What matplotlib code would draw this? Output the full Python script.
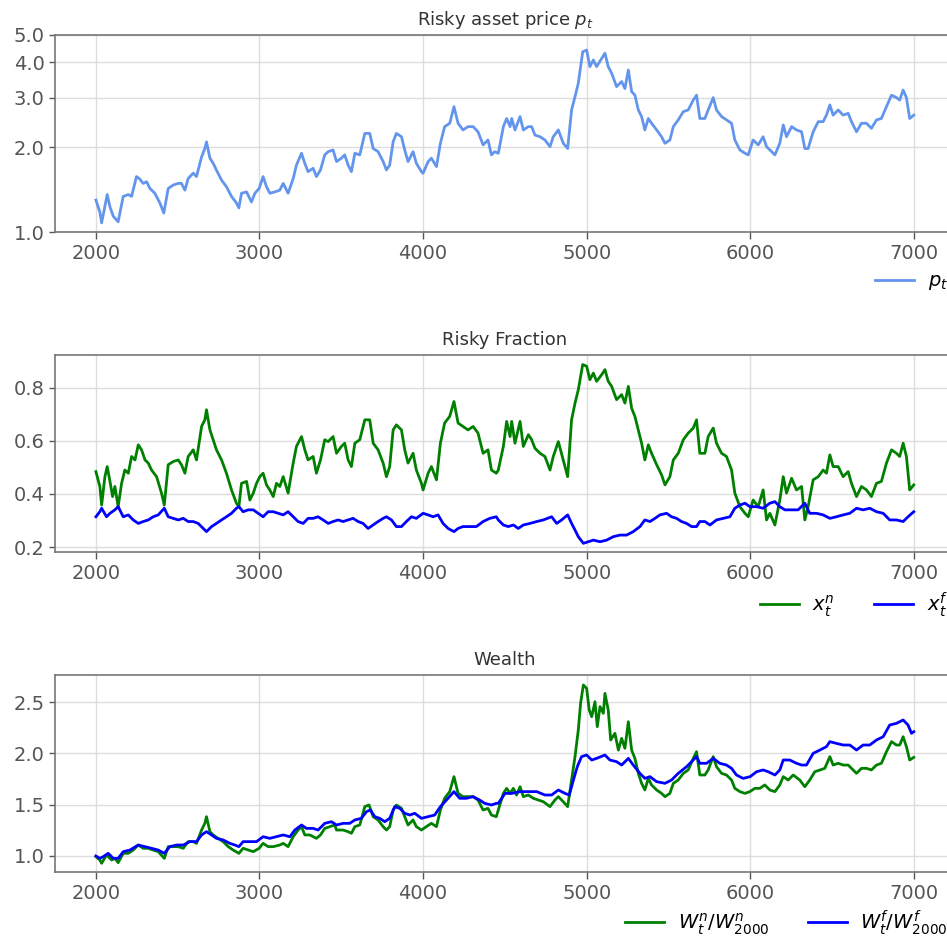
import matplotlib
matplotlib.use("Agg")
import matplotlib.pyplot as plt
import numpy as np

# ---- risky asset price ----
t_price = [2000, 2024, 2035, 2069, 2086, 2106, 2136, 2167, 2198, 2218, 2248, 2265, 2289, 2310, 2330, 2360,
           2391, 2415, 2442, 2473, 2503, 2523, 2544, 2564, 2595, 2615, 2646, 2666, 2676, 2697, 2717, 2737,
           2768, 2798, 2829, 2859, 2874, 2890, 2921, 2951, 2972, 2998, 3022, 3043, 3063, 3094, 3124, 3145,
           3175, 3206, 3226, 3257, 3277, 3297, 3328, 3348, 3373, 3399, 3420, 3450, 3471, 3501, 3521, 3542,
           3562, 3583, 3613, 3644, 3674, 3695, 3725, 3756, 3776, 3796, 3817, 3837, 3868, 3888, 3908, 3939,
           3959, 3990, 4000, 4031, 4051, 4082, 4106, 4132, 4163, 4189, 4214, 4244, 4275, 4306, 4336, 4367,
           4397, 4418, 4438, 4460, 4491, 4511, 4532, 4542, 4562, 4593, 4613, 4644, 4664, 4684, 4715, 4745,
           4776, 4796, 4827, 4857, 4884, 4908, 4929, 4949, 4976, 5000, 5020, 5041, 5061, 5092, 5112, 5132,
           5153, 5183, 5214, 5234, 5255, 5275, 5295, 5316, 5336, 5356, 5377, 5397, 5428, 5458, 5479, 5509,
           5530, 5560, 5591, 5621, 5652, 5672, 5692, 5723, 5743, 5774, 5794, 5825, 5855, 5886, 5906, 5937,
           5968, 5988, 6018, 6049, 6079, 6100, 6120, 6151, 6181, 6202, 6222, 6253, 6283, 6314, 6334, 6354,
           6385, 6416, 6446, 6466, 6487, 6507, 6538, 6568, 6599, 6619, 6650, 6680, 6711, 6741, 6772, 6802,
           6833, 6864, 6894, 6914, 6935, 6955, 6975, 7000]
price = [1.30, 1.18, 1.08, 1.36, 1.23, 1.14, 1.09, 1.34, 1.36, 1.34, 1.575, 1.55, 1.49, 1.51, 1.43, 1.375,
         1.27, 1.17, 1.43, 1.47, 1.49, 1.49, 1.41, 1.55, 1.62, 1.575, 1.85, 1.98, 2.09, 1.83, 1.755, 1.66,
         1.53, 1.45, 1.34, 1.27, 1.22, 1.375, 1.39, 1.28, 1.375, 1.43, 1.575, 1.45, 1.375, 1.39, 1.41, 1.49,
         1.375, 1.55, 1.73, 1.905, 1.755, 1.64, 1.685, 1.575, 1.663, 1.88, 1.93, 1.957, 1.78, 1.83, 1.88, 1.73,
         1.64, 1.905, 1.88, 2.24, 2.24, 1.98, 1.93, 1.78, 1.663, 1.73, 2.09, 2.24, 2.18, 1.957, 1.78, 1.93,
         1.755, 1.64, 1.618, 1.78, 1.83, 1.708, 2.067, 2.367, 2.433, 2.787, 2.433, 2.304, 2.367, 2.367, 2.27, 2.04,
         2.123, 1.88, 1.93, 1.905, 2.367, 2.53, 2.367, 2.53, 2.304, 2.569, 2.304, 2.367, 2.367, 2.21, 2.18, 2.123,
         2.01, 2.18, 2.304, 2.067, 1.98, 2.712, 3.023, 3.371, 4.36, 4.42, 3.862, 4.077, 3.862, 4.13, 4.31, 3.862,
         3.658, 3.28, 3.42, 3.23, 3.758, 3.15, 3.06, 2.712, 2.569, 2.304, 2.53, 2.433, 2.304, 2.18, 2.067, 2.123,
         2.367, 2.50, 2.675, 2.712, 2.94, 3.06, 2.53, 2.53, 2.712, 3.0, 2.712, 2.569, 2.50, 2.433, 2.123, 1.957,
         1.905, 1.88, 2.123, 2.04, 2.18, 2.01, 1.957, 1.88, 2.067, 2.40, 2.18, 2.367, 2.304, 2.27, 1.98, 1.98,
         2.27, 2.466, 2.466, 2.60, 2.825, 2.60, 2.712, 2.60, 2.639, 2.466, 2.27, 2.433, 2.433, 2.335, 2.50, 2.53,
         2.787, 3.06, 3.0, 2.94, 3.19, 3.0, 2.53, 2.60]

# ---- risky fraction, noise traders ----
t_xn = [2000, 2024, 2035, 2055, 2069, 2086, 2102, 2116, 2136, 2157, 2177, 2198, 2218, 2239, 2259, 2279,
        2300, 2320, 2340, 2371, 2401, 2418, 2442, 2473, 2503, 2523, 2544, 2564, 2595, 2615, 2646, 2666,
        2676, 2697, 2717, 2737, 2768, 2798, 2829, 2859, 2874, 2890, 2921, 2941, 2962, 2982, 3002, 3022,
        3043, 3063, 3084, 3104, 3124, 3145, 3175, 3206, 3226, 3257, 3277, 3297, 3328, 3348, 3373, 3399,
        3420, 3450, 3471, 3501, 3521, 3542, 3562, 3583, 3613, 3644, 3674, 3695, 3725, 3756, 3776, 3796,
        3817, 3837, 3868, 3888, 3908, 3939, 3959, 3990, 4000, 4031, 4051, 4082, 4106, 4132, 4163, 4189,
        4214, 4244, 4275, 4306, 4336, 4367, 4397, 4418, 4448, 4460, 4491, 4511, 4532, 4542, 4562, 4593,
        4613, 4644, 4664, 4684, 4715, 4745, 4776, 4796, 4827, 4857, 4884, 4908, 4929, 4949, 4976, 5000,
        5020, 5041, 5061, 5092, 5112, 5132, 5153, 5183, 5214, 5234, 5255, 5275, 5295, 5316, 5336, 5356,
        5377, 5397, 5428, 5458, 5479, 5509, 5530, 5560, 5591, 5621, 5652, 5672, 5692, 5723, 5743, 5774,
        5794, 5825, 5855, 5886, 5906, 5937, 5968, 5988, 6018, 6049, 6079, 6100, 6120, 6151, 6181, 6202,
        6222, 6253, 6283, 6314, 6334, 6354, 6385, 6416, 6446, 6466, 6487, 6507, 6538, 6568, 6599, 6619,
        6650, 6680, 6711, 6741, 6772, 6802, 6833, 6864, 6894, 6914, 6935, 6955, 6975, 7000]
x_n = [0.484, 0.428, 0.358, 0.465, 0.503, 0.447, 0.39, 0.428, 0.352, 0.44, 0.49, 0.478, 0.541, 0.528, 0.585, 0.566,
       0.528, 0.516, 0.49, 0.465, 0.403, 0.358, 0.51, 0.522, 0.528, 0.51, 0.478, 0.541, 0.566, 0.528, 0.654, 0.679,
       0.717, 0.641, 0.604, 0.566, 0.528, 0.478, 0.415, 0.365, 0.352, 0.44, 0.447, 0.377, 0.403, 0.44, 0.465, 0.478,
       0.434, 0.415, 0.39, 0.44, 0.428, 0.465, 0.403, 0.516, 0.579, 0.616, 0.566, 0.528, 0.541, 0.478, 0.528, 0.604,
       0.597, 0.616, 0.553, 0.579, 0.591, 0.528, 0.503, 0.591, 0.604, 0.679, 0.679, 0.591, 0.566, 0.516, 0.465, 0.503,
       0.641, 0.66, 0.641, 0.566, 0.516, 0.553, 0.49, 0.44, 0.415, 0.478, 0.503, 0.453, 0.591, 0.667, 0.692, 0.748,
       0.667, 0.654, 0.641, 0.654, 0.629, 0.553, 0.566, 0.49, 0.478, 0.49, 0.579, 0.673, 0.616, 0.673, 0.591, 0.673,
       0.579, 0.623, 0.604, 0.572, 0.553, 0.541, 0.49, 0.541, 0.597, 0.528, 0.465, 0.679, 0.742, 0.792, 0.887, 0.881,
       0.83, 0.855, 0.824, 0.849, 0.868, 0.824, 0.805, 0.755, 0.774, 0.742, 0.805, 0.723, 0.692, 0.641, 0.591, 0.528,
       0.585, 0.553, 0.51, 0.472, 0.434, 0.465, 0.528, 0.553, 0.604, 0.629, 0.648, 0.679, 0.553, 0.553, 0.616, 0.648,
       0.591, 0.553, 0.541, 0.49, 0.403, 0.352, 0.327, 0.314, 0.377, 0.352, 0.415, 0.302, 0.327, 0.283, 0.377, 0.465,
       0.403, 0.459, 0.415, 0.428, 0.302, 0.352, 0.453, 0.465, 0.49, 0.478, 0.547, 0.503, 0.503, 0.465, 0.484, 0.44,
       0.39, 0.428, 0.415, 0.39, 0.44, 0.447, 0.516, 0.566, 0.553, 0.541, 0.591, 0.541, 0.415, 0.434]

# ---- risky fraction, fundamentalists ----
t_xf = [2000, 2024, 2035, 2065, 2086, 2116, 2136, 2167, 2198, 2228, 2259, 2289, 2320, 2350, 2381, 2418,
        2442, 2473, 2503, 2534, 2564, 2595, 2625, 2656, 2676, 2707, 2737, 2768, 2798, 2829, 2859, 2874,
        2900, 2931, 2962, 2992, 3022, 3053, 3084, 3114, 3145, 3175, 3206, 3236, 3267, 3297, 3328, 3358,
        3389, 3420, 3450, 3481, 3511, 3542, 3572, 3603, 3633, 3664, 3695, 3725, 3756, 3776, 3807, 3837,
        3868, 3898, 3929, 3959, 4000, 4031, 4061, 4092, 4122, 4153, 4189, 4214, 4244, 4285, 4326, 4367,
        4408, 4448, 4460, 4491, 4521, 4552, 4582, 4613, 4654, 4695, 4735, 4786, 4817, 4847, 4884, 4908,
        4929, 4949, 4980, 5010, 5041, 5082, 5122, 5163, 5204, 5244, 5285, 5326, 5356, 5387, 5418, 5448,
        5489, 5519, 5550, 5580, 5611, 5642, 5672, 5692, 5723, 5754, 5794, 5835, 5876, 5906, 5937, 5968,
        5998, 6039, 6079, 6120, 6151, 6181, 6212, 6253, 6293, 6334, 6364, 6405, 6446, 6487, 6527, 6568,
        6609, 6650, 6690, 6731, 6772, 6813, 6853, 6894, 6935, 6965, 7000]
x_f = [0.314, 0.333, 0.346, 0.314, 0.327, 0.34, 0.352, 0.314, 0.321, 0.302, 0.289, 0.296, 0.302, 0.314, 0.321, 0.346,
       0.314, 0.308, 0.302, 0.308, 0.296, 0.296, 0.289, 0.27, 0.258, 0.277, 0.289, 0.302, 0.314, 0.327, 0.346, 0.352,
       0.333, 0.34, 0.34, 0.327, 0.314, 0.333, 0.333, 0.327, 0.321, 0.333, 0.314, 0.296, 0.289, 0.308, 0.308, 0.314,
       0.302, 0.289, 0.296, 0.302, 0.296, 0.302, 0.308, 0.296, 0.289, 0.27, 0.283, 0.296, 0.308, 0.314, 0.302, 0.277,
       0.277, 0.296, 0.314, 0.308, 0.327, 0.321, 0.314, 0.321, 0.289, 0.27, 0.258, 0.27, 0.277, 0.277, 0.277, 0.296,
       0.308, 0.314, 0.302, 0.283, 0.277, 0.283, 0.27, 0.283, 0.289, 0.296, 0.302, 0.314, 0.289, 0.302, 0.321, 0.289,
       0.264, 0.239, 0.214, 0.22, 0.226, 0.22, 0.226, 0.239, 0.245, 0.245, 0.258, 0.277, 0.302, 0.296, 0.308, 0.321,
       0.327, 0.314, 0.308, 0.296, 0.289, 0.277, 0.277, 0.296, 0.296, 0.283, 0.302, 0.308, 0.314, 0.346, 0.358, 0.365,
       0.352, 0.352, 0.346, 0.365, 0.371, 0.352, 0.34, 0.34, 0.34, 0.365, 0.327, 0.327, 0.321, 0.308, 0.314, 0.321,
       0.327, 0.346, 0.34, 0.346, 0.333, 0.327, 0.302, 0.302, 0.296, 0.314, 0.333]

# ---- normalised wealth, noise traders ----
t_wn = [2000, 2024, 2035, 2065, 2096, 2116, 2136, 2167, 2198, 2228, 2259, 2289, 2320, 2350, 2381, 2418,
        2442, 2473, 2503, 2534, 2564, 2595, 2615, 2646, 2666, 2676, 2697, 2717, 2747, 2778, 2809, 2839,
        2874, 2900, 2931, 2962, 2998, 3022, 3053, 3084, 3124, 3145, 3175, 3206, 3236, 3257, 3277, 3308,
        3348, 3373, 3399, 3430, 3460, 3471, 3511, 3542, 3562, 3583, 3613, 3644, 3670, 3695, 3725, 3756,
        3776, 3796, 3817, 3837, 3868, 3888, 3908, 3939, 3959, 3990, 4020, 4051, 4082, 4106, 4132, 4163,
        4189, 4214, 4244, 4275, 4306, 4336, 4367, 4397, 4418, 4448, 4460, 4491, 4511, 4532, 4552, 4572,
        4593, 4613, 4644, 4674, 4705, 4735, 4776, 4806, 4827, 4857, 4884, 4908, 4929, 4949, 4963, 4980,
        5000, 5016, 5031, 5051, 5065, 5082, 5102, 5112, 5132, 5147, 5173, 5194, 5214, 5234, 5255, 5275,
        5295, 5316, 5336, 5356, 5377, 5397, 5428, 5458, 5479, 5509, 5530, 5560, 5591, 5621, 5652, 5672,
        5692, 5723, 5743, 5774, 5794, 5825, 5855, 5886, 5906, 5937, 5968, 5998, 6028, 6059, 6089, 6120,
        6151, 6181, 6202, 6232, 6263, 6303, 6334, 6364, 6395, 6426, 6456, 6487, 6507, 6538, 6568, 6599,
        6629, 6650, 6680, 6711, 6741, 6772, 6802, 6833, 6864, 6894, 6914, 6935, 6955, 6975, 7000]
w_n = [0.994, 0.961, 0.929, 1.01, 0.961, 0.977, 0.935, 1.026, 1.026, 1.058, 1.107, 1.075, 1.075, 1.058, 1.042, 0.977,
       1.091, 1.091, 1.091, 1.075, 1.14, 1.14, 1.123, 1.253, 1.318, 1.383, 1.237, 1.205, 1.172, 1.14, 1.091, 1.058,
       1.026, 1.075, 1.058, 1.042, 1.075, 1.123, 1.091, 1.091, 1.107, 1.123, 1.091, 1.188, 1.253, 1.286, 1.205, 1.205,
       1.172, 1.205, 1.269, 1.286, 1.302, 1.253, 1.253, 1.237, 1.221, 1.286, 1.302, 1.481, 1.497, 1.383, 1.351, 1.286,
       1.253, 1.286, 1.448, 1.497, 1.464, 1.383, 1.302, 1.351, 1.286, 1.253, 1.286, 1.318, 1.286, 1.448, 1.562, 1.627,
       1.773, 1.61, 1.578, 1.578, 1.578, 1.545, 1.448, 1.464, 1.399, 1.383, 1.448, 1.61, 1.659, 1.61, 1.659, 1.594,
       1.675, 1.578, 1.594, 1.562, 1.545, 1.529, 1.481, 1.545, 1.578, 1.529, 1.481, 1.74, 1.968, 2.227, 2.487, 2.666,
       2.633, 2.422, 2.357, 2.503, 2.26, 2.455, 2.39, 2.584, 2.422, 2.13, 2.195, 2.032, 2.146, 2.049, 2.308, 2.032,
       1.951, 1.805, 1.708, 1.643, 1.756, 1.692, 1.643, 1.61, 1.578, 1.61, 1.708, 1.74, 1.805, 1.838, 1.951, 2.016,
       1.789, 1.789, 1.838, 1.968, 1.87, 1.805, 1.789, 1.74, 1.659, 1.627, 1.61, 1.627, 1.659, 1.659, 1.692, 1.643,
       1.627, 1.692, 1.773, 1.74, 1.789, 1.74, 1.675, 1.74, 1.821, 1.838, 1.854, 1.968, 1.886, 1.903, 1.886, 1.886,
       1.838, 1.805, 1.854, 1.854, 1.838, 1.886, 1.903, 2.016, 2.114, 2.081, 2.081, 2.162, 2.065, 1.935, 1.961]

# ---- normalised wealth, fundamentalists ----
t_wf = [2000, 2024, 2045, 2075, 2106, 2136, 2167, 2208, 2259, 2300, 2340, 2381, 2418, 2452, 2493, 2534,
        2574, 2615, 2646, 2676, 2707, 2737, 2778, 2819, 2849, 2874, 2900, 2941, 2982, 3022, 3063, 3104,
        3145, 3186, 3216, 3257, 3287, 3328, 3358, 3399, 3440, 3471, 3511, 3552, 3583, 3623, 3654, 3678,
        3705, 3735, 3766, 3796, 3827, 3858, 3888, 3919, 3949, 3990, 4031, 4071, 4106, 4143, 4189, 4224,
        4265, 4306, 4346, 4377, 4418, 4448, 4460, 4501, 4542, 4593, 4644, 4695, 4745, 4786, 4827, 4868,
        4894, 4919, 4943, 4969, 5000, 5031, 5061, 5112, 5142, 5183, 5214, 5255, 5285, 5326, 5356, 5387,
        5428, 5479, 5519, 5560, 5611, 5652, 5672, 5692, 5733, 5774, 5814, 5855, 5886, 5916, 5957, 6000,
        6039, 6079, 6110, 6151, 6181, 6202, 6242, 6283, 6314, 6344, 6385, 6426, 6466, 6487, 6527, 6568,
        6609, 6650, 6690, 6731, 6772, 6813, 6853, 6894, 6935, 6965, 6986, 7000]
w_f = [1.0, 0.977, 0.994, 1.026, 0.977, 0.977, 1.042, 1.058, 1.107, 1.091, 1.075, 1.058, 1.026, 1.091, 1.107, 1.107,
       1.14, 1.14, 1.205, 1.237, 1.205, 1.172, 1.156, 1.123, 1.107, 1.091, 1.14, 1.14, 1.14, 1.188, 1.172, 1.188,
       1.205, 1.188, 1.253, 1.302, 1.269, 1.269, 1.253, 1.318, 1.334, 1.302, 1.318, 1.318, 1.351, 1.367, 1.432, 1.448,
       1.383, 1.367, 1.334, 1.367, 1.481, 1.464, 1.416, 1.399, 1.416, 1.367, 1.383, 1.399, 1.481, 1.545, 1.627, 1.562,
       1.562, 1.578, 1.545, 1.513, 1.497, 1.513, 1.513, 1.61, 1.61, 1.627, 1.627, 1.627, 1.594, 1.594, 1.643, 1.61,
       1.594, 1.74, 1.87, 1.968, 1.984, 1.935, 1.951, 1.984, 1.935, 1.919, 1.886, 1.951, 1.886, 1.805, 1.756, 1.773,
       1.724, 1.708, 1.74, 1.805, 1.87, 1.935, 1.968, 1.903, 1.903, 1.951, 1.903, 1.886, 1.854, 1.789, 1.756, 1.773,
       1.821, 1.838, 1.821, 1.789, 1.838, 1.935, 1.935, 1.903, 1.886, 1.886, 2.0, 2.032, 2.065, 2.114, 2.097, 2.081,
       2.081, 2.032, 2.081, 2.081, 2.13, 2.162, 2.276, 2.292, 2.325, 2.276, 2.195, 2.211]

x_ticks = [2000, 3000, 4000, 5000, 6000, 7000]
price_ticks = [1.0, 2.0, 3.0, 4.0, 5.0]

TICK_COLOR = "#555555"
SPINE_COLOR = "#777777"
GRID_COLOR = "#dddddd"

fig = plt.figure(figsize=(9.47, 9.40), dpi=100)
fig.patch.set_facecolor("white")

ax_w = 0.950
positions = [
    [0.0581, 0.7529, ax_w, 0.2099],
    [0.0581, 0.4124, ax_w, 0.2099],
    [0.0581, 0.0720, ax_w, 0.2099],
]
axes = [fig.add_axes(p) for p in positions]


def style(ax):
    ax.set_xlim(1750, 7250)
    ax.set_xticks(x_ticks)
    ax.grid(True, color=GRID_COLOR, linewidth=1.0)
    ax.set_axisbelow(True)
    for s in ax.spines.values():
        s.set_color(SPINE_COLOR)
        s.set_linewidth(1.2)
    ax.tick_params(axis="both", colors=TICK_COLOR, labelsize=14, length=5, width=1.0)
    ax.tick_params(axis="y", length=4)


def add_legend(ax, y, ncol):
    ax.legend(loc="upper right", bbox_to_anchor=(1.012, y), frameon=False,
              fontsize=14, ncol=ncol, handletextpad=0.7)


# price
ax = axes[0]
ax.plot(t_price, price, color="cornflowerblue", lw=2.0, label=r"$p_t$")
ax.set_yscale("log")
ax.set_ylim(1.0, 5.0)
ax.set_yticks(price_ticks)
ax.set_yticklabels([f"{v:.1f}" for v in price_ticks])
ax.yaxis.set_minor_locator(matplotlib.ticker.NullLocator())
style(ax)
ax.set_title(r"Risky asset price $p_t$", fontsize=13, color="#333333", pad=7)
add_legend(ax, -0.11, 1)

# risky fraction
ax = axes[1]
ax.plot(t_xn, x_n, color="green", lw=2.0, label=r"$x_t^n$")
ax.plot(t_xf, x_f, color="blue", lw=2.0, label=r"$x_t^f$")
ax.set_ylim(0.18, 0.923)
ax.set_yticks([0.2, 0.4, 0.6, 0.8])
style(ax)
ax.set_title("Risky Fraction", fontsize=13, color="#333333", pad=7)
add_legend(ax, -0.105, 2)

# wealth
ax = axes[2]
ax.plot(t_wn, w_n, color="green", lw=2.0, label=r"$W_t^n/W_{2000}^n$")
ax.plot(t_wf, w_f, color="blue", lw=2.0, label=r"$W_t^f/W_{2000}^f$")
ax.set_ylim(0.841, 2.763)
ax.set_yticks([1.0, 1.5, 2.0, 2.5])
style(ax)
ax.set_title("Wealth", fontsize=13, color="#333333", pad=7)
add_legend(ax, -0.095, 2)

fig.savefig("out.png", dpi=100, facecolor="white")
